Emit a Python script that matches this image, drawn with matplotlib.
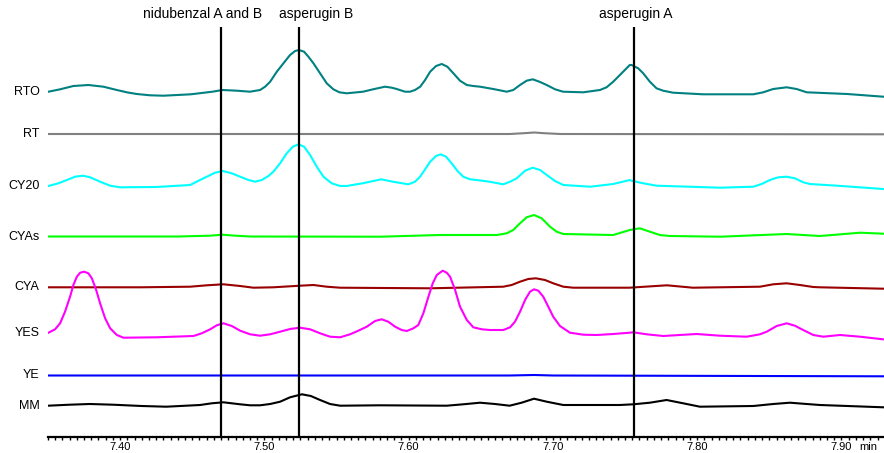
import matplotlib.pyplot as plt
from matplotlib.ticker import MultipleLocator, FormatStrFormatter

plt.rcParams['font.family'] = ['Liberation Sans', 'DejaVu Sans']

# retention time (min) and signal (arbitrary units) for each sample
rto_t = [7.3503, 7.3584, 7.3676, 7.378, 7.3884, 7.3977, 7.4046, 7.4115, 7.4208, 7.430,
         7.449, 7.464, 7.471, 7.481, 7.490, 7.497,
         7.5005, 7.504, 7.5086, 7.5132, 7.5178, 7.5213, 7.524, 7.5275, 7.5305, 7.534,
         7.5386, 7.5432, 7.5478, 7.552, 7.557, 7.5684, 7.5753, 7.5836, 7.5883, 7.5917,
         7.5975, 7.601, 7.6044, 7.608, 7.6114, 7.6149, 7.619, 7.6229, 7.6268, 7.631,
         7.6356, 7.6403, 7.6448, 7.6495, 7.6586, 7.668, 7.6725, 7.6772, 7.6818, 7.686,
         7.6906, 7.6957, 7.7015, 7.707, 7.721, 7.7326, 7.7372, 7.7418, 7.7476, 7.7533,
         7.7545, 7.7591, 7.7626, 7.7672, 7.7718, 7.7764, 7.7833, 7.804, 7.8389, 7.8458,
         7.8527, 7.862, 7.8689, 7.8759, 7.904, 7.929]
rto_s = [4.3, 6.7, 10, 11, 9.3, 6, 3.7, 2, 0.7, 0.3,
         1.7, 4.3, 6, 5.3, 4.3, 6,
         9.3, 14.3, 24.3, 32.7, 41, 45, 46, 44.3, 39.3, 32.7,
         22.7, 12.7, 6.7, 3.7, 2.7, 4.3, 6.7, 9.3, 8.3, 7,
         4.3, 4.3, 6, 9.3, 16, 24.3, 30, 32, 29.3, 22.7,
         15.3, 11, 10, 9.3, 7, 4.3, 6, 11, 15.3, 16.7,
         14.3, 11, 6.7, 4.3, 3.7, 6, 8.7, 14.3, 22.7, 31,
         31, 27.7, 22.7, 14.3, 7.7, 5.3, 3.3, 1.7, 1.7, 3.7,
         7, 8.7, 7, 3.7, 2, -0.7]

rt_t = [7.350, 7.670, 7.680, 7.687, 7.694, 7.705, 7.929]
rt_s = [0, 0, 0.8, 1.5, 0.8, 0, -0.3]

cy20_t = [7.3503, 7.3572, 7.3631, 7.3688, 7.3742, 7.3792, 7.3861, 7.3931, 7.400, 7.425,
          7.4485, 7.4554, 7.4601, 7.4658, 7.4712, 7.4774, 7.4832, 7.4889, 7.4936, 7.4982,
          7.5028, 7.5062, 7.5109, 7.5155, 7.5197, 7.5236, 7.5275, 7.5317, 7.5363, 7.5409,
          7.5467, 7.5525, 7.557, 7.568, 7.581, 7.589, 7.5998, 7.6044, 7.6079, 7.6114,
          7.6149, 7.619, 7.6222, 7.6259, 7.6298, 7.6337, 7.6378, 7.6425, 7.6472, 7.656,
          7.6656, 7.6703, 7.6749, 7.6807, 7.686, 7.6911, 7.6957, 7.7015, 7.7072, 7.726,
          7.7418, 7.7533, 7.7545, 7.7626, 7.7718, 7.816, 7.8389, 7.8447, 7.8504, 7.8562,
          7.862, 7.8677, 7.8735, 7.8781, 7.897, 7.929]
cy20_s = [2, 4.7, 8, 11.3, 12.3, 10.7, 6.3, 2.3, 0.7, 1,
          3, 8, 11.3, 15.3, 17, 14.7, 11.3, 8, 6.3, 8,
          12, 16.3, 24.7, 34.7, 41.3, 43.7, 41.3, 33, 21.3, 11.3,
          4.7, 2, 2, 4.7, 8.7, 6.3, 3.7, 6.3, 11.3, 18.7,
          26.3, 32, 33.7, 31.3, 24.7, 17.3, 11.3, 8.7, 8, 6.3,
          3.7, 6.3, 9.7, 17.3, 20.3, 18, 13, 7, 3, 1.3,
          4, 8, 7.3, 4.7, 2.3, 0.3, 1.3, 4, 8, 10.7,
          11.3, 9.7, 5.7, 4, 2.3, -1]

cyas_t = [7.350, 7.440, 7.462, 7.471, 7.480, 7.490, 7.580, 7.622, 7.661, 7.668, 7.6725,
          7.6772, 7.6818, 7.6869, 7.6922, 7.698, 7.7026, 7.7072, 7.7418, 7.7533, 7.7602,
          7.7672, 7.7741, 7.781, 7.816, 7.862, 7.885, 7.913, 7.929]
cyas_s = [0.5, 0.5, 1.3, 2.3, 1.3, 0.5, 0.3, 2, 2, 3.7, 7,
          13.7, 19.7, 22, 18.7, 10.3, 5.3, 3, 2, 7, 8.7,
          5.3, 2, 1, 0.3, 3, 1, 4.3, 3.3]

cya_t = [7.350, 7.414, 7.4485, 7.4601, 7.4716, 7.4832, 7.4924, 7.5062, 7.5247, 7.534,
         7.5432, 7.5525, 7.615, 7.6656, 7.6714, 7.6772, 7.6829, 7.6882, 7.6945, 7.7002,
         7.7072, 7.7141, 7.753, 7.779, 7.797, 7.8435, 7.8527, 7.862, 7.8712, 7.8805,
         7.8851, 7.929]
cya_s = [1.2, 1.2, 1.8, 3.2, 4.2, 2.5, 0.8, 1.2, 2.8, 3.5,
         1.8, 0.8, 0.2, 1.8, 3.5, 6.8, 9.5, 10.2, 8.5, 5.2,
         1.8, 0.8, 0.8, 3.2, 0.8, 1.8, 4.2, 5.2, 3.5, 1.5,
         1.2, -0.2]

yes_t = [7.3503, 7.3549, 7.3584, 7.3618, 7.3653, 7.3676, 7.370, 7.3723, 7.375, 7.378,
         7.3804, 7.3834, 7.3861, 7.3896, 7.3931, 7.3977, 7.4023, 7.425, 7.4508, 7.4566,
         7.4624, 7.467, 7.4716, 7.4774, 7.4832, 7.4901, 7.497, 7.504, 7.5109, 7.5178,
         7.5247, 7.5317, 7.5386, 7.5455, 7.5525, 7.5594, 7.5651, 7.571, 7.5767, 7.5813,
         7.5859, 7.5906, 7.5952, 7.5987, 7.6033, 7.6067, 7.6102, 7.6137, 7.6167, 7.6195,
         7.6236, 7.6264, 7.6287, 7.6322, 7.6356, 7.6403, 7.6448, 7.6507, 7.6564, 7.6656,
         7.6703, 7.6737, 7.6772, 7.6807, 7.6841, 7.6869, 7.6899, 7.6933, 7.6968, 7.7002,
         7.7049, 7.7118, 7.7211, 7.7303, 7.7418, 7.7533, 7.7557, 7.765, 7.7765, 7.788,
         7.7997, 7.8158, 7.8343, 7.8435, 7.8482, 7.8551, 7.862, 7.8677, 7.8735, 7.8805,
         7.8874, 7.899, 7.9129, 7.9288]
yes_s = [7.3, 10.7, 16.7, 28.3, 43.3, 55, 63.3, 67.3, 68.3, 66.7,
         61.7, 50, 36.7, 21.7, 11.7, 5, 2.3, 2.7, 4, 6.7,
         10.7, 14.7, 16.7, 14, 9.3, 5.7, 4.3, 5.7, 8.3, 11,
         12.3, 10.7, 6.7, 3.3, 2.7, 5.7, 9.3, 13.3, 19, 20.7,
         18.3, 13.3, 10, 9, 11.7, 15, 26.7, 43.3, 56.7, 65,
         69.3, 67.3, 63.3, 50, 33.3, 20, 12.7, 10.7, 10, 10,
         12.7, 18.3, 28.3, 40, 48.3, 50.7, 49.3, 43.3, 33.3, 23.3,
         14, 7.3, 5.3, 5, 6, 7.3, 7.7, 5.7, 4, 5,
         6, 4.3, 3.3, 5.7, 8.3, 14, 16.7, 14.3, 10, 5,
         3.3, 5, 3.3, 0.7]

ye_t = [7.350, 7.670, 7.687, 7.700, 7.929]
ye_s = [0, 0, 0.5, 0, -0.8]

mm_t = [7.350, 7.365, 7.379, 7.395, 7.415, 7.432, 7.4554, 7.4635, 7.4716, 7.4832,
        7.4901, 7.497, 7.504,
        7.5109, 7.5178, 7.526, 7.5322, 7.5386, 7.5455, 7.5525, 7.580, 7.6264, 7.6378,
        7.6495, 7.6598, 7.670, 7.6783, 7.6869, 7.6957, 7.7072, 7.7464, 7.7557, 7.7672,
        7.7788, 7.7903, 7.8019, 7.8389, 7.8527, 7.8643, 7.8759, 7.8851, 7.929]
mm_s = [1.3, 2.3, 3, 2.3, 1, 0.3, 2, 3.7, 4.7, 2.7,
        1.7, 1.7, 3,
        5.3, 9.7, 12.7, 11, 7, 3, 1.3, 1.7, 1.3, 2.7,
        4.3, 3, 1.3, 4.3, 8.3, 5.3, 2, 2, 2.7, 4.3,
        7, 3.7, 0.3, 1, 3, 4.3, 3, 2, -0.3]

names = ["RTO", "RT", "CY20", "CYAs", "CYA", "YES", "YE", "MM"]
times = [rto_t, rt_t, cy20_t, cyas_t, cya_t, yes_t, ye_t, mm_t]
signals = [rto_s, rt_s, cy20_s, cyas_s, cya_s, yes_s, ye_s, mm_s]
colors = ["#008080", "#808080", "#00FFFF", "#00FF00", "#990000", "#FF00FF", "#0000FF", "#000000"]
offsets = [341, 303, 249, 200, 148.5, 97, 61.5, 30]

# marked compounds
marker_names = ["nidubenzal A and B", "asperugin B", "asperugin A"]
marker_times = [7.470, 7.524, 7.756]
marker_shift = [-19, 17, 2]  # label shift in pixels

fig = plt.figure(figsize=(8.84, 4.53), dpi=100)
ax = fig.add_axes([48 / 884, 16 / 453, 836 / 884, 410 / 453])

for name, t, s, c, off in zip(names, times, signals, colors, offsets):
    ax.plot(t, [v + off for v in s], color=c, lw=1.5, solid_joinstyle='round')
    ax.annotate(name, xy=(t[0], s[0] + off), xytext=(-6, 0), textcoords='offset points',
                ha='right', va='center', fontsize=9, annotation_clip=False)

for name, t, dx in zip(marker_names, marker_times, marker_shift):
    ax.axvline(t, color='black', lw=1.6, zorder=5)
    ax.annotate(name, xy=(t, 1), xycoords=('data', 'axes fraction'),
                xytext=(dx * 0.72, 4), textcoords='offset points',
                ha='center', va='bottom', fontsize=10, annotation_clip=False)

ax.set_xlim(7.35, 7.9295)
ax.set_ylim(0, 410)

for side in ['left', 'right', 'top']:
    ax.spines[side].set_visible(False)
ax.spines['bottom'].set_linewidth(1.6)
ax.set_yticks([])

ax.xaxis.set_major_locator(MultipleLocator(0.1))
ax.xaxis.set_minor_locator(MultipleLocator(0.005))
ax.xaxis.set_major_formatter(FormatStrFormatter('%.2f'))
ax.tick_params(axis='x', which='major', length=2.5, width=1, labelsize=8, pad=0.8)
ax.tick_params(axis='x', which='minor', length=2.5, width=1)

ax.annotate('min', xy=(1, 0), xycoords='axes fraction', xytext=(-11, -3.3),
            textcoords='offset points', ha='center', va='top', fontsize=8,
            annotation_clip=False)

fig.savefig('out.png', dpi=100)
